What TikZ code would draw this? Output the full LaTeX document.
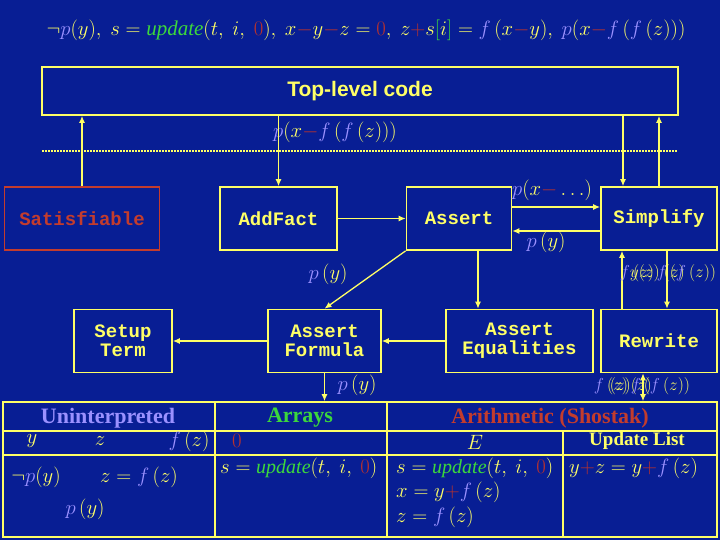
\documentclass[tikz,border=0pt]{standalone}
\usepackage{fontspec}
\setmainfont{Liberation Serif}
\setsansfont{Liberation Sans}
\setmonofont{Liberation Mono}
\usetikzlibrary{arrows.meta, positioning, calc}
\definecolor{slidebg}{RGB}{8, 30, 148}
\definecolor{hl}{RGB}{255, 255, 102}
\definecolor{lav}{RGB}{155, 145, 255}
\definecolor{grn}{RGB}{60, 215, 60}
\definecolor{mred}{RGB}{185, 50, 45}
\definecolor{satred}{RGB}{195, 60, 45}
\newcommand{\lv}[1]{\textcolor{lav}{#1}}
\newcommand{\gn}[1]{\textcolor{grn}{#1}}
\newcommand{\mr}[1]{\textcolor{mred}{#1}}
\tikzset{
    proc/.style={draw=hl, line width=1.6pt, minimum height=63pt, text=hl, inner sep=0pt,
        align=center, font=\ttfamily\bfseries\fontsize{19}{19}\selectfont},
    link/.style={draw=hl, line width=1.3pt, -{Latex[length=7pt, width=6pt]}},
    lbl/.style={text=hl, inner sep=0pt, font=\fontsize{20}{22}\selectfont},
    hdr/.style={inner sep=0pt, font=\bfseries\fontsize{22}{22}\selectfont},
    grid/.style={hl, line width=1.3pt}
}

\begin{document}
\begin{tikzpicture}[x=1pt, y=-1pt]
        % Hintergrund
        \fill[slidebg] (0,0) rectangle (720,540);

        % Eingabe
        \node[lbl, font=\fontsize{21}{22}\selectfont] (goal) at (366,30) {$\neg\lv{p}(y),\ s=\gn{\mathit{update}}(t,\ i,\ \mr{0}),\ x\mr{-}y\mr{-}z=\mr{0},\ z\mr{+}s\gn{[}i\gn{]}=\lv{f}\,(x\mr{-}y),\ \lv{p}(x\mr{-}\lv{f}\,(\lv{f}\,(z)))$};

        % Top-level
        \node[proc, minimum width=636pt, minimum height=48pt, font=\sffamily\bfseries\fontsize{21}{21}\selectfont] (top) at (360,91) {Top-level code};
        \node[lbl] (topin) at (335,132) {$\lv{p}(x\mr{-}\lv{f}\,(\lv{f}\,(z)))$};
        \draw[hl, line width=1.5pt, dash pattern=on 1.5pt off 1.5pt] (42,151) -- (678,151);

        % erste Reihe
        \node[proc, draw=satred, text=satred, minimum width=155pt] (sat) at (82,218.5) {Satisfiable};
        \node[proc, minimum width=117pt] (addf) at (278.5,218.5) {AddFact};
        \node[proc, minimum width=105pt] (assert) at (459,218.5) {Assert};
        \node[proc, minimum width=116pt] (simp) at (659,218.5) {Simplify};

        % zweite Reihe
        \node[proc, minimum width=98pt] (setup) at (123,341) {Setup\\Term};
        \node[proc, minimum width=113pt] (afor) at (324.5,341) {Assert\\Formula};
        \node[proc, minimum width=147pt] (aeq) at (519.5,341) {Assert\\Equalities};
        \node[proc, minimum width=116pt] (rew) at (659,341) {Rewrite};

        % Pfeile
        \draw[link] (sat.north) -- (sat.north |- top.south);
        \draw[link] (addf.north |- top.south) -- (addf.north);
        \draw[link] ([xshift=-36pt]simp.north |- top.south) -- ([xshift=-36pt]simp.north);
        \draw[link] (simp.north) -- (simp.north |- top.south);
        \draw[link] (addf.east) -- (assert.west);
        \draw[link] ([yshift=11.5pt]assert.east) -- ([yshift=11.5pt]simp.west);
        \draw[link] ([yshift=-12.5pt]simp.west) -- ([yshift=-12.5pt]assert.east);
        \node[lbl] (pxdots) at (552,190) {$\lv{p}(x\mr{-}\ldots)$};
        \node[lbl] (py1) at (546,242) {$\lv{p}\,(y)$};
        \draw[link] (assert.south west) -- (afor.north);
        \draw[link] ([xshift=19pt]assert.south) -- ([xshift=19pt]assert.south |- aeq.north);
        \node[lbl] (py2) at (328,274) {$\lv{p}\,(y)$};
        \draw[link] ([xshift=-37pt]rew.north) -- ([xshift=-37pt]simp.south);
        \draw[link] ([xshift=8pt]simp.south) -- ([xshift=8pt]rew.north);
        \node[lbl, font=\fontsize{17}{17}\selectfont] (fz1) at (668,273) {\rlap{\hspace{10pt}$y(z)\ (z)$}$\lv{f}\,(z)\,\lv{f}\,(\lv{f}\,(z))$};
        \draw[link] (aeq.west) -- (afor.east);
        \draw[link] (afor.west) -- (setup.east);

        % Tabelle
        \node[draw=hl, line width=1.6pt, minimum width=714pt, minimum height=135pt, inner sep=0pt] (tbl) at (360,469.5) {};
        \draw[link] (afor.south) -- (afor.south |- tbl.north);
        \node[lbl] (py3) at (357,385) {$\lv{p}\,(y)$};
        \draw[link, {Latex[length=7pt, width=6pt]}-{Latex[length=7pt, width=6pt]}] ([xshift=-16pt]rew.south) -- ([xshift=-16pt]rew.south |- tbl.north);
        \node[lbl, font=\fontsize{17}{17}\selectfont] (fz2) at (642,386) {\rlap{\hspace{16pt}$(z)(z)$}$\lv{f}\,(z)\,\lv{f}\,(\lv{f}\,(z))$};
        \draw[grid] (3,431) -- (717,431);
        \draw[grid] (3,455) -- (717,455);
        \draw[grid] (215,402) -- (215,537);
        \draw[grid] (387,402) -- (387,537);
        \draw[grid] (563,431) -- (563,537);

        \node[hdr, text=lav] (hunint) at (108,418) {Uninterpreted};
        \node[hdr, text=grn] (harr) at (300,418) {Arrays};
        \node[hdr, text=satred] (harith) at (550,418) {Arithmetic (Shostak)};

        % Uninterpreted
        \node[lbl] (uy) at (32,441) {$y$};
        \node[lbl] (uz) at (100,441) {$z$};
        \node[lbl] (ufz) at (189,441) {$\lv{f}\,(z)$};
        \node[lbl] (unp) at (36,477) {$\neg\lv{p}(y)$};
        \node[lbl] (ueq) at (139,477) {$z=\lv{f}\,(z)$};
        \node[lbl] (upy) at (85,509) {$\lv{p}\,(y)$};

        % Arrays
        \node[lbl] (azero) at (237,441) {$\mr{0}$};
        \node[lbl, anchor=west] (aupd) at (220,468) {$s=\gn{\mathit{update}}(t,\ i,\ \mr{0})$};

        % Arithmetic
        \node[lbl, font=\fontsize{22}{22}\selectfont] (ee) at (475,442) {$E$};
        \node[hdr, text=hl, font=\bfseries\fontsize{19}{19}\selectfont] (hupd) at (637,441) {Update List};
        \node[lbl, anchor=west] (eupd) at (396,468) {$s=\gn{\mathit{update}}(t,\ i,\ \mr{0})$};
        \node[lbl, anchor=west] (ex) at (396,492) {$x=y\mr{+}\lv{f}\,(z)$};
        \node[lbl, anchor=west] (ez) at (396,517) {$z=\lv{f}\,(z)$};
        \node[lbl, anchor=west] (ulist) at (569,468) {$y\mr{+}z=y\mr{+}\lv{f}\,(z)$};
\end{tikzpicture}
\end{document}
